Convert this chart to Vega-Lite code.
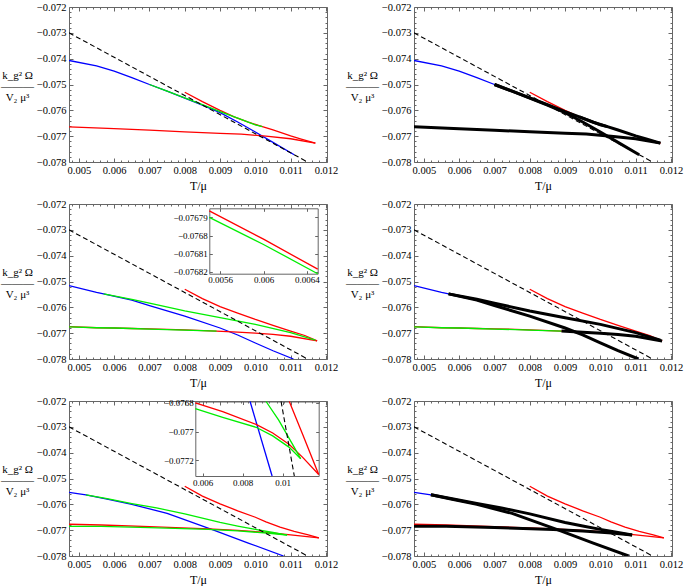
{
"$schema": "https://vega.github.io/schema/vega-lite/v6.json",
"padding": {"left": 0, "top": 1, "right": 0, "bottom": 0},
"columns": 2,
"spacing": {"row": 42, "column": 87},
"bounds": "flush",
"config": {
  "font": "Liberation Serif",
  "view": {"stroke": "#666", "strokeWidth": 1},
  "axis": {"labelFont": "Liberation Serif", "labelFontSize": 10.5, "labelColor": "#000", "titleFont": "Liberation Serif", "titleFontWeight": "normal", "titleColor": "#000", "domain": false, "ticks": false, "grid": false, "labelFlush": false, "labelOverlap": false, "labelPadding": 3}
},
"datasets": {
  "dash": [{"T": 0.00472, "O": -0.073}, {"T": 0.01148, "O": -0.078}],
  "p1": [
    {"b":"blue","T":0.00472,"O":-0.07407},{"b":"blue","T":0.0055,"O":-0.07428},{"b":"blue","T":0.006,"O":-0.07448},{"b":"blue","T":0.0065,"O":-0.07473},{"b":"blue","T":0.007,"O":-0.075},{"b":"blue","T":0.0075,"O":-0.07526},{"b":"blue","T":0.008,"O":-0.07553},{"b":"blue","T":0.0085,"O":-0.0758},{"b":"blue","T":0.009,"O":-0.07609},{"b":"blue","T":0.0095,"O":-0.07645},{"b":"blue","T":0.01,"O":-0.07684},{"b":"blue","T":0.0105,"O":-0.07724},{"b":"blue","T":0.0111,"O":-0.07772},
    {"b":"red1","T":0.008,"O":-0.0753},{"b":"red1","T":0.0085,"O":-0.07566},{"b":"red1","T":0.009,"O":-0.076},{"b":"red1","T":0.0094,"O":-0.07625},{"b":"red1","T":0.0098,"O":-0.07646},{"b":"red1","T":0.0102,"O":-0.07663},{"b":"red1","T":0.0105,"O":-0.07676},{"b":"red1","T":0.011,"O":-0.07699},{"b":"red1","T":0.0113,"O":-0.07711},{"b":"red1","T":0.0117,"O":-0.07727},
    {"b":"red2","T":0.00472,"O":-0.07664},{"b":"red2","T":0.006,"O":-0.07671},{"b":"red2","T":0.007,"O":-0.07677},{"b":"red2","T":0.008,"O":-0.07683},{"b":"red2","T":0.009,"O":-0.07689},{"b":"red2","T":0.0096,"O":-0.07692},{"b":"red2","T":0.0103,"O":-0.077},{"b":"red2","T":0.011,"O":-0.0771},{"b":"red2","T":0.0117,"O":-0.07727},
    {"b":"green1","T":0.007,"O":-0.075},{"b":"green1","T":0.0075,"O":-0.07526},{"b":"green1","T":0.008,"O":-0.07552},{"b":"green1","T":0.0085,"O":-0.07578},{"b":"green1","T":0.009,"O":-0.07605},{"b":"green1","T":0.0095,"O":-0.0763},{"b":"green1","T":0.01,"O":-0.07656},{"b":"green1","T":0.0102,"O":-0.07663}
  ],
  "p2": [
    {"b":"blue","T":0.00472,"O":-0.07516},{"b":"blue","T":0.0055,"O":-0.07542},{"b":"blue","T":0.0057,"O":-0.07548},{"b":"blue","T":0.0065,"O":-0.07572},{"b":"blue","T":0.007,"O":-0.07593},{"b":"blue","T":0.008,"O":-0.07634},{"b":"blue","T":0.009,"O":-0.0768},{"b":"blue","T":0.0095,"O":-0.07707},{"b":"blue","T":0.01,"O":-0.07738},{"b":"blue","T":0.0105,"O":-0.07768},{"b":"blue","T":0.01108,"O":-0.078},
    {"b":"red1","T":0.008,"O":-0.0753},{"b":"red1","T":0.0085,"O":-0.07566},{"b":"red1","T":0.009,"O":-0.07597},{"b":"red1","T":0.0095,"O":-0.07622},{"b":"red1","T":0.01,"O":-0.07647},{"b":"red1","T":0.0105,"O":-0.0767},{"b":"red1","T":0.011,"O":-0.07692},{"b":"red1","T":0.0114,"O":-0.07709},{"b":"red1","T":0.01175,"O":-0.0773},
    {"b":"red2","T":0.00472,"O":-0.07675},{"b":"red2","T":0.0055,"O":-0.07679},{"b":"red2","T":0.006,"O":-0.0768},{"b":"red2","T":0.0065,"O":-0.07682},{"b":"red2","T":0.007,"O":-0.07683},{"b":"red2","T":0.008,"O":-0.07687},{"b":"red2","T":0.0089,"O":-0.07692},{"b":"red2","T":0.0095,"O":-0.07696},{"b":"red2","T":0.01,"O":-0.077},{"b":"red2","T":0.0105,"O":-0.07705},{"b":"red2","T":0.011,"O":-0.07712},{"b":"red2","T":0.01175,"O":-0.0773},
    {"b":"green1","T":0.0057,"O":-0.07548},{"b":"green1","T":0.0065,"O":-0.07569},{"b":"green1","T":0.007,"O":-0.07584},{"b":"green1","T":0.008,"O":-0.07614},{"b":"green1","T":0.009,"O":-0.0764},{"b":"green1","T":0.01,"O":-0.07666},{"b":"green1","T":0.011,"O":-0.07698},{"b":"green1","T":0.0117,"O":-0.07727},
    {"b":"green2","T":0.00472,"O":-0.07676},{"b":"green2","T":0.0055,"O":-0.07679},{"b":"green2","T":0.006,"O":-0.0768},{"b":"green2","T":0.0065,"O":-0.07682},{"b":"green2","T":0.007,"O":-0.07684},{"b":"green2","T":0.008,"O":-0.07688},{"b":"green2","T":0.0089,"O":-0.07692}
  ],
  "p3": [
    {"b":"blue","T":0.00472,"O":-0.07554},{"b":"blue","T":0.0052,"O":-0.07563},{"b":"blue","T":0.0058,"O":-0.0758},{"b":"blue","T":0.0065,"O":-0.076},{"b":"blue","T":0.0075,"O":-0.07635},{"b":"blue","T":0.0088,"O":-0.07699},{"b":"blue","T":0.0098,"O":-0.0775},{"b":"blue","T":0.0108,"O":-0.078},
    {"b":"red1","T":0.008,"O":-0.0753},{"b":"red1","T":0.0085,"O":-0.07568},{"b":"red1","T":0.009,"O":-0.07598},{"b":"red1","T":0.0095,"O":-0.07625},{"b":"red1","T":0.01,"O":-0.0765},{"b":"red1","T":0.0103,"O":-0.07668},{"b":"red1","T":0.0107,"O":-0.07688},{"b":"red1","T":0.0111,"O":-0.07705},{"b":"red1","T":0.0115,"O":-0.07718},{"b":"red1","T":0.0118,"O":-0.0773},
    {"b":"red2","T":0.00472,"O":-0.07677},{"b":"red2","T":0.00563,"O":-0.0768},{"b":"red2","T":0.007,"O":-0.07686},{"b":"red2","T":0.00867,"O":-0.07695},{"b":"red2","T":0.0095,"O":-0.07701},{"b":"red2","T":0.01033,"O":-0.07709},{"b":"red2","T":0.011,"O":-0.07718},{"b":"red2","T":0.0118,"O":-0.0773},
    {"b":"green1","T":0.0052,"O":-0.07563},{"b":"green1","T":0.0058,"O":-0.07578},{"b":"green1","T":0.0065,"O":-0.07597},{"b":"green1","T":0.0072,"O":-0.07614},{"b":"green1","T":0.008,"O":-0.07637},{"b":"green1","T":0.009,"O":-0.0767},{"b":"green1","T":0.0095,"O":-0.07684},{"b":"green1","T":0.01,"O":-0.07697},{"b":"green1","T":0.0105,"O":-0.07709},{"b":"green1","T":0.0109,"O":-0.07719},
    {"b":"green2","T":0.00472,"O":-0.07685},{"b":"green2","T":0.00563,"O":-0.07685},{"b":"green2","T":0.007,"O":-0.0769},{"b":"green2","T":0.00867,"O":-0.07697},{"b":"green2","T":0.0095,"O":-0.07703},{"b":"green2","T":0.01033,"O":-0.07711},{"b":"green2","T":0.0109,"O":-0.07719}
  ],
  "i2": [
    {"b":"red2","T":0.0055,"O":-0.0767864},{"b":"red2","T":0.006,"O":-0.076802},{"b":"red2","T":0.0065,"O":-0.0768185},
    {"b":"green2","T":0.0055,"O":-0.07679},{"b":"green2","T":0.006,"O":-0.0768049},{"b":"green2","T":0.0065,"O":-0.076821}
  ],
  "i3": [
    {"b":"blue","T":0.00837,"O":-0.07679},{"b":"blue","T":0.00947,"O":-0.07731},
    {"b":"red1","T":0.01033,"O":-0.07679},{"b":"red1","T":0.011,"O":-0.07702},{"b":"red1","T":0.0118,"O":-0.0773},
    {"b":"red2","T":0.00563,"O":-0.0768},{"b":"red2","T":0.007,"O":-0.07686},{"b":"red2","T":0.00867,"O":-0.07695},{"b":"red2","T":0.0095,"O":-0.07701},{"b":"red2","T":0.01033,"O":-0.07709},{"b":"red2","T":0.011,"O":-0.07718},{"b":"red2","T":0.0118,"O":-0.0773},
    {"b":"green1","T":0.00917,"O":-0.07679},{"b":"green1","T":0.0098,"O":-0.07692},{"b":"green1","T":0.01058,"O":-0.07711},{"b":"green1","T":0.0109,"O":-0.07719},
    {"b":"green2","T":0.00563,"O":-0.07684},{"b":"green2","T":0.007,"O":-0.0769},{"b":"green2","T":0.00867,"O":-0.07697},{"b":"green2","T":0.0095,"O":-0.07703},{"b":"green2","T":0.01033,"O":-0.07711},{"b":"green2","T":0.0109,"O":-0.07719},
    {"b":"dash","T":0.00992,"O":-0.07679},{"b":"dash","T":0.01058,"O":-0.07731}
  ]
},
"concat": [
{
  "width": 258, "height": 155,
  "resolve": {"scale": {"x": "independent", "y": "independent"}},
  "layer": [
    {
      "data": {"name": "p1"},
      "encoding": {
        "x": {"field": "T", "type": "quantitative", "scale": {"domain": [0.00472, 0.01203], "nice": false, "zero": false}, "axis": {"values": [0.005,0.006,0.007,0.008,0.009,0.01,0.011,0.012], "format": ".3f", "grid": true, "gridColor": "#666", "gridDash": [4,147,4,400], "title": "T/μ", "titleFontSize": 12, "titlePadding": 5}},
        "y": {"field": "O", "type": "quantitative", "scale": {"domain": [-0.078, -0.072], "nice": false, "zero": false}, "axis": {"values": [-0.078,-0.077,-0.076,-0.075,-0.074,-0.073,-0.072], "format": ".3f", "grid": true, "gridColor": "#666", "gridDash": [4,250,4,400], "title": ["k_g² Ω","———","V₂ μ³"], "titleAngle": 0, "titleAlign": "center", "titleBaseline": "middle", "titleX": -52, "titleY": 68, "titleFontSize": 11, "titleLineHeight": 11}}
      },
      "layer": [
        {"mark": {"type": "line", "strokeWidth": 1.3, "clip": true}, "encoding": {"color": {"field": "b", "type": "nominal", "scale": {"domain": ["blue","green1","green2","red1","red2"], "range": ["#0000ff","#00ee00","#00ee00","#ff0000","#ff0000"]}, "legend": null}}},
        {"data": {"name": "dash"}, "mark": {"type": "line", "color": "#000", "strokeWidth": 1.1, "strokeDash": [5,3], "clip": true}, "encoding": {}},
        {"data": {"values": [{}]}, "mark": {"type": "text", "color": "#ff0000", "fontSize": 14, "align": "left", "baseline": "alphabetic", "font": "Liberation Serif"}, "encoding": {"x": {"datum": 0.00512}, "y": {"datum": -0.07277}, "text": {"value": "Δ=2.1"}}}
      ]
    },
    {
      "data": {"name": "dash"}, "mark": {"type": "line", "strokeOpacity": 0},
      "encoding": {
        "x": {"field": "T", "type": "quantitative", "scale": {"domain": [0.00472, 0.01203], "nice": false, "zero": false}, "axis": {"orient": "bottom", "values": [0.0048,0.0052,0.0054,0.0056,0.0058,0.0062,0.0064,0.0066,0.0068,0.0072,0.0074,0.0076,0.0078,0.0082,0.0084,0.0086,0.0088,0.0092,0.0094,0.0096,0.0098,0.0102,0.0104,0.0106,0.0108,0.0112,0.0114,0.0116,0.0118], "labels": false, "title": null, "grid": true, "gridColor": "#666", "gridDash": [2,151,2,400]}},
        "y": {"field": "O", "type": "quantitative", "scale": {"domain": [-0.078, -0.072], "nice": false, "zero": false}, "axis": {"orient": "left", "values": [-0.0778,-0.0776,-0.0774,-0.0772,-0.0768,-0.0766,-0.0764,-0.0762,-0.0758,-0.0756,-0.0754,-0.0752,-0.0748,-0.0746,-0.0744,-0.0742,-0.0738,-0.0736,-0.0734,-0.0732,-0.0728,-0.0726,-0.0724,-0.0722], "labels": false, "title": null, "grid": true, "gridColor": "#666", "gridDash": [2,254,2,400]}}
      }
    }
  ]
},
{
  "width": 258, "height": 155,
  "resolve": {"scale": {"x": "independent", "y": "independent"}},
  "layer": [
    {
      "data": {"name": "p1"},
      "encoding": {
        "x": {"field": "T", "type": "quantitative", "scale": {"domain": [0.00472, 0.01203], "nice": false, "zero": false}, "axis": {"values": [0.005,0.006,0.007,0.008,0.009,0.01,0.011,0.012], "format": ".3f", "grid": true, "gridColor": "#666", "gridDash": [4,147,4,400], "title": "T/μ", "titleFontSize": 12, "titlePadding": 5}},
        "y": {"field": "O", "type": "quantitative", "scale": {"domain": [-0.078, -0.072], "nice": false, "zero": false}, "axis": {"values": [-0.078,-0.077,-0.076,-0.075,-0.074,-0.073,-0.072], "format": ".3f", "grid": true, "gridColor": "#666", "gridDash": [4,250,4,400], "title": ["k_g² Ω","———","V₂ μ³"], "titleAngle": 0, "titleAlign": "center", "titleBaseline": "middle", "titleX": -52, "titleY": 68, "titleFontSize": 11, "titleLineHeight": 11}}
      },
      "layer": [
        {"mark": {"type": "line", "strokeWidth": 1.3, "clip": true}, "encoding": {"color": {"field": "b", "type": "nominal", "scale": {"domain": ["blue","green1","green2","red1","red2"], "range": ["#0000ff","#00ee00","#00ee00","#ff0000","#ff0000"]}, "legend": null}}},
        {"transform": [{"filter": "(datum.b=='blue'&&datum.T>=0.007)||datum.b=='green1'||(datum.b=='red1'&&datum.T>=0.0094)||datum.b=='red2'"}], "mark": {"type": "line", "color": "#000", "strokeWidth": 3, "clip": true}, "encoding": {"detail": {"field": "b"}}},
        {"data": {"name": "dash"}, "mark": {"type": "line", "color": "#000", "strokeWidth": 1.1, "strokeDash": [5,3], "clip": true}, "encoding": {}},
        {"data": {"values": [{}]}, "mark": {"type": "text", "color": "#ff0000", "fontSize": 14, "align": "left", "baseline": "alphabetic", "font": "Liberation Serif"}, "encoding": {"x": {"datum": 0.00525}, "y": {"datum": -0.07277}, "text": {"value": "Δ=2.1"}}}
      ]
    },
    {
      "data": {"name": "dash"}, "mark": {"type": "line", "strokeOpacity": 0},
      "encoding": {
        "x": {"field": "T", "type": "quantitative", "scale": {"domain": [0.00472, 0.01203], "nice": false, "zero": false}, "axis": {"orient": "bottom", "values": [0.0048,0.0052,0.0054,0.0056,0.0058,0.0062,0.0064,0.0066,0.0068,0.0072,0.0074,0.0076,0.0078,0.0082,0.0084,0.0086,0.0088,0.0092,0.0094,0.0096,0.0098,0.0102,0.0104,0.0106,0.0108,0.0112,0.0114,0.0116,0.0118], "labels": false, "title": null, "grid": true, "gridColor": "#666", "gridDash": [2,151,2,400]}},
        "y": {"field": "O", "type": "quantitative", "scale": {"domain": [-0.078, -0.072], "nice": false, "zero": false}, "axis": {"orient": "left", "values": [-0.0778,-0.0776,-0.0774,-0.0772,-0.0768,-0.0766,-0.0764,-0.0762,-0.0758,-0.0756,-0.0754,-0.0752,-0.0748,-0.0746,-0.0744,-0.0742,-0.0738,-0.0736,-0.0734,-0.0732,-0.0728,-0.0726,-0.0724,-0.0722], "labels": false, "title": null, "grid": true, "gridColor": "#666", "gridDash": [2,254,2,400]}}
      }
    }
  ]
},
{
  "width": 258, "height": 155,
  "resolve": {"scale": {"x": "independent", "y": "independent"}},
  "layer": [
    {
      "data": {"name": "p2"},
      "encoding": {
        "x": {"field": "T", "type": "quantitative", "scale": {"domain": [0.00472, 0.01203], "nice": false, "zero": false}, "axis": {"values": [0.005,0.006,0.007,0.008,0.009,0.01,0.011,0.012], "format": ".3f", "grid": true, "gridColor": "#666", "gridDash": [4,147,4,400], "title": "T/μ", "titleFontSize": 12, "titlePadding": 5}},
        "y": {"field": "O", "type": "quantitative", "scale": {"domain": [-0.078, -0.072], "nice": false, "zero": false}, "axis": {"values": [-0.078,-0.077,-0.076,-0.075,-0.074,-0.073,-0.072], "format": ".3f", "grid": true, "gridColor": "#666", "gridDash": [4,250,4,400], "title": ["k_g² Ω","———","V₂ μ³"], "titleAngle": 0, "titleAlign": "center", "titleBaseline": "middle", "titleX": -52, "titleY": 68, "titleFontSize": 11, "titleLineHeight": 11}}
      },
      "layer": [
        {"mark": {"type": "line", "strokeWidth": 1.3, "clip": true}, "encoding": {"color": {"field": "b", "type": "nominal", "scale": {"domain": ["blue","green1","green2","red1","red2"], "range": ["#0000ff","#00ee00","#00ee00","#ff0000","#ff0000"]}, "legend": null}}},
        {"data": {"name": "dash"}, "mark": {"type": "line", "color": "#000", "strokeWidth": 1.1, "strokeDash": [5,3], "clip": true}, "encoding": {}},
        {"data": {"values": [{}]}, "mark": {"type": "text", "color": "#ff0000", "fontSize": 14, "align": "left", "baseline": "alphabetic", "font": "Liberation Serif"}, "encoding": {"x": {"datum": 0.00512}, "y": {"datum": -0.07277}, "text": {"value": "Δ=2.023"}}}
      ]
    },
    {
      "data": {"name": "dash"}, "mark": {"type": "line", "strokeOpacity": 0},
      "encoding": {
        "x": {"field": "T", "type": "quantitative", "scale": {"domain": [0.00472, 0.01203], "nice": false, "zero": false}, "axis": {"orient": "bottom", "values": [0.0048,0.0052,0.0054,0.0056,0.0058,0.0062,0.0064,0.0066,0.0068,0.0072,0.0074,0.0076,0.0078,0.0082,0.0084,0.0086,0.0088,0.0092,0.0094,0.0096,0.0098,0.0102,0.0104,0.0106,0.0108,0.0112,0.0114,0.0116,0.0118], "labels": false, "title": null, "grid": true, "gridColor": "#666", "gridDash": [2,151,2,400]}},
        "y": {"field": "O", "type": "quantitative", "scale": {"domain": [-0.078, -0.072], "nice": false, "zero": false}, "axis": {"orient": "left", "values": [-0.0778,-0.0776,-0.0774,-0.0772,-0.0768,-0.0766,-0.0764,-0.0762,-0.0758,-0.0756,-0.0754,-0.0752,-0.0748,-0.0746,-0.0744,-0.0742,-0.0738,-0.0736,-0.0734,-0.0732,-0.0728,-0.0726,-0.0724,-0.0722], "labels": false, "title": null, "grid": true, "gridColor": "#666", "gridDash": [2,254,2,400]}}
      }
    },
    {
      "data": {"name": "i2"},
      "mark": {"type": "line", "strokeWidth": 1.3},
      "encoding": {
        "x": {"field": "T", "type": "quantitative", "scale": {"domain": [0.0055, 0.0065], "range": [140.3, 248.7], "nice": false, "zero": false}, "axis": {"orient": "bottom", "offset": -85.3, "values": [0.0056, 0.006, 0.0064], "format": ".4~f", "labelFontSize": 9, "ticks": true, "tickSize": -3, "tickColor": "#666", "labelPadding": 5, "title": null, "domain": true, "domainColor": "#666"}},
        "y": {"field": "O", "type": "quantitative", "scale": {"domain": [-0.076821, -0.076785], "range": [69.7, 4.3], "nice": false, "zero": false}, "axis": {"orient": "left", "offset": -140.3, "values": [-0.07682, -0.07681, -0.0768, -0.07679], "format": ".5~f", "labelFontSize": 9, "ticks": true, "tickSize": -3, "tickColor": "#666", "labelPadding": 5, "title": null, "domain": true, "domainColor": "#666"}},
        "color": {"field": "b", "type": "nominal", "scale": {"domain": ["blue","green1","green2","red1","red2"], "range": ["#0000ff","#00ee00","#00ee00","#ff0000","#ff0000"]}, "legend": null}
      }
    },
    {
      "data": {"name": "i2"},
      "mark": {"type": "line", "strokeOpacity": 0},
      "encoding": {
        "x": {"field": "T", "type": "quantitative", "scale": {"domain": [0.0055, 0.0065], "range": [140.3, 248.7], "nice": false, "zero": false}, "axis": {"orient": "top", "offset": -4.3, "values": [0.0056, 0.006, 0.0064], "labels": false, "ticks": true, "tickSize": -3, "tickColor": "#666", "title": null, "domain": true, "domainColor": "#666"}},
        "y": {"field": "O", "type": "quantitative", "scale": {"domain": [-0.076821, -0.076785], "range": [69.7, 4.3], "nice": false, "zero": false}, "axis": {"orient": "right", "offset": -9.3, "values": [-0.07682, -0.07681, -0.0768, -0.07679], "labels": false, "ticks": true, "tickSize": -3, "tickColor": "#666", "title": null, "domain": true, "domainColor": "#666"}}
      }
    }
  ]
},
{
  "width": 258, "height": 155,
  "resolve": {"scale": {"x": "independent", "y": "independent"}},
  "layer": [
    {
      "data": {"name": "p2"},
      "encoding": {
        "x": {"field": "T", "type": "quantitative", "scale": {"domain": [0.00472, 0.01203], "nice": false, "zero": false}, "axis": {"values": [0.005,0.006,0.007,0.008,0.009,0.01,0.011,0.012], "format": ".3f", "grid": true, "gridColor": "#666", "gridDash": [4,147,4,400], "title": "T/μ", "titleFontSize": 12, "titlePadding": 5}},
        "y": {"field": "O", "type": "quantitative", "scale": {"domain": [-0.078, -0.072], "nice": false, "zero": false}, "axis": {"values": [-0.078,-0.077,-0.076,-0.075,-0.074,-0.073,-0.072], "format": ".3f", "grid": true, "gridColor": "#666", "gridDash": [4,250,4,400], "title": ["k_g² Ω","———","V₂ μ³"], "titleAngle": 0, "titleAlign": "center", "titleBaseline": "middle", "titleX": -52, "titleY": 68, "titleFontSize": 11, "titleLineHeight": 11}}
      },
      "layer": [
        {"mark": {"type": "line", "strokeWidth": 1.3, "clip": true}, "encoding": {"color": {"field": "b", "type": "nominal", "scale": {"domain": ["blue","green1","green2","red1","red2"], "range": ["#0000ff","#00ee00","#00ee00","#ff0000","#ff0000"]}, "legend": null}}},
        {"transform": [{"filter": "(datum.b=='blue'&&datum.T>=0.0057)||datum.b=='green1'||(datum.b=='red2'&&datum.T>=0.0089)"}], "mark": {"type": "line", "color": "#000", "strokeWidth": 3, "clip": true}, "encoding": {"detail": {"field": "b"}}},
        {"data": {"name": "dash"}, "mark": {"type": "line", "color": "#000", "strokeWidth": 1.1, "strokeDash": [5,3], "clip": true}, "encoding": {}},
        {"data": {"values": [{}]}, "mark": {"type": "text", "color": "#ff0000", "fontSize": 14, "align": "left", "baseline": "alphabetic", "font": "Liberation Serif"}, "encoding": {"x": {"datum": 0.00525}, "y": {"datum": -0.07277}, "text": {"value": "Δ=2.023"}}}
      ]
    },
    {
      "data": {"name": "dash"}, "mark": {"type": "line", "strokeOpacity": 0},
      "encoding": {
        "x": {"field": "T", "type": "quantitative", "scale": {"domain": [0.00472, 0.01203], "nice": false, "zero": false}, "axis": {"orient": "bottom", "values": [0.0048,0.0052,0.0054,0.0056,0.0058,0.0062,0.0064,0.0066,0.0068,0.0072,0.0074,0.0076,0.0078,0.0082,0.0084,0.0086,0.0088,0.0092,0.0094,0.0096,0.0098,0.0102,0.0104,0.0106,0.0108,0.0112,0.0114,0.0116,0.0118], "labels": false, "title": null, "grid": true, "gridColor": "#666", "gridDash": [2,151,2,400]}},
        "y": {"field": "O", "type": "quantitative", "scale": {"domain": [-0.078, -0.072], "nice": false, "zero": false}, "axis": {"orient": "left", "values": [-0.0778,-0.0776,-0.0774,-0.0772,-0.0768,-0.0766,-0.0764,-0.0762,-0.0758,-0.0756,-0.0754,-0.0752,-0.0748,-0.0746,-0.0744,-0.0742,-0.0738,-0.0736,-0.0734,-0.0732,-0.0728,-0.0726,-0.0724,-0.0722], "labels": false, "title": null, "grid": true, "gridColor": "#666", "gridDash": [2,254,2,400]}}
      }
    }
  ]
},
{
  "width": 258, "height": 155,
  "resolve": {"scale": {"x": "independent", "y": "independent"}},
  "layer": [
    {
      "data": {"name": "p3"},
      "encoding": {
        "x": {"field": "T", "type": "quantitative", "scale": {"domain": [0.00472, 0.01203], "nice": false, "zero": false}, "axis": {"values": [0.005,0.006,0.007,0.008,0.009,0.01,0.011,0.012], "format": ".3f", "grid": true, "gridColor": "#666", "gridDash": [4,147,4,400], "title": "T/μ", "titleFontSize": 12, "titlePadding": 5}},
        "y": {"field": "O", "type": "quantitative", "scale": {"domain": [-0.078, -0.072], "nice": false, "zero": false}, "axis": {"values": [-0.078,-0.077,-0.076,-0.075,-0.074,-0.073,-0.072], "format": ".3f", "grid": true, "gridColor": "#666", "gridDash": [4,250,4,400], "title": ["k_g² Ω","———","V₂ μ³"], "titleAngle": 0, "titleAlign": "center", "titleBaseline": "middle", "titleX": -52, "titleY": 68, "titleFontSize": 11, "titleLineHeight": 11}}
      },
      "layer": [
        {"mark": {"type": "line", "strokeWidth": 1.3, "clip": true}, "encoding": {"color": {"field": "b", "type": "nominal", "scale": {"domain": ["blue","green1","green2","red1","red2"], "range": ["#0000ff","#00ee00","#00ee00","#ff0000","#ff0000"]}, "legend": null}}},
        {"data": {"name": "dash"}, "mark": {"type": "line", "color": "#000", "strokeWidth": 1.1, "strokeDash": [5,3], "clip": true}, "encoding": {}},
        {"data": {"values": [{}]}, "mark": {"type": "text", "color": "#ff0000", "fontSize": 14, "align": "left", "baseline": "alphabetic", "font": "Liberation Serif"}, "encoding": {"x": {"datum": 0.00512}, "y": {"datum": -0.07277}, "text": {"value": "Δ=2"}}}
      ]
    },
    {
      "data": {"name": "dash"}, "mark": {"type": "line", "strokeOpacity": 0},
      "encoding": {
        "x": {"field": "T", "type": "quantitative", "scale": {"domain": [0.00472, 0.01203], "nice": false, "zero": false}, "axis": {"orient": "bottom", "values": [0.0048,0.0052,0.0054,0.0056,0.0058,0.0062,0.0064,0.0066,0.0068,0.0072,0.0074,0.0076,0.0078,0.0082,0.0084,0.0086,0.0088,0.0092,0.0094,0.0096,0.0098,0.0102,0.0104,0.0106,0.0108,0.0112,0.0114,0.0116,0.0118], "labels": false, "title": null, "grid": true, "gridColor": "#666", "gridDash": [2,151,2,400]}},
        "y": {"field": "O", "type": "quantitative", "scale": {"domain": [-0.078, -0.072], "nice": false, "zero": false}, "axis": {"orient": "left", "values": [-0.0778,-0.0776,-0.0774,-0.0772,-0.0768,-0.0766,-0.0764,-0.0762,-0.0758,-0.0756,-0.0754,-0.0752,-0.0748,-0.0746,-0.0744,-0.0742,-0.0738,-0.0736,-0.0734,-0.0732,-0.0728,-0.0726,-0.0724,-0.0722], "labels": false, "title": null, "grid": true, "gridColor": "#666", "gridDash": [2,254,2,400]}}
      }
    },
    {
      "data": {"name": "i3"},
      "encoding": {
        "x": {"field": "T", "type": "quantitative", "scale": {"domain": [0.00563, 0.0118], "range": [126.3, 249.7], "nice": false, "zero": false}, "axis": {"orient": "bottom", "offset": -80, "values": [0.006, 0.008, 0.01], "format": ".3~f", "labelFontSize": 9, "ticks": true, "tickSize": -3, "tickColor": "#666", "labelPadding": 5, "title": null, "domain": true, "domainColor": "#666"}},
        "y": {"field": "O", "type": "quantitative", "scale": {"domain": [-0.07731, -0.07679], "range": [75, 0.5], "nice": false, "zero": false}, "axis": {"orient": "left", "offset": -126.3, "values": [-0.0772, -0.077, -0.0768], "format": ".4~f", "labelFontSize": 9, "ticks": true, "tickSize": -3, "tickColor": "#666", "labelPadding": 5, "title": null, "domain": true, "domainColor": "#666"}}
      },
      "layer": [
        {"transform": [{"filter": "datum.b!='dash'"}], "mark": {"type": "line", "strokeWidth": 1.3}, "encoding": {"color": {"field": "b", "type": "nominal", "scale": {"domain": ["blue","green1","green2","red1","red2"], "range": ["#0000ff","#00ee00","#00ee00","#ff0000","#ff0000"]}, "legend": null}}},
        {"transform": [{"filter": "datum.b=='dash'"}], "mark": {"type": "line", "color": "#000", "strokeWidth": 1.1, "strokeDash": [5,3]}, "encoding": {}}
      ]
    },
    {
      "data": {"name": "i3"},
      "mark": {"type": "line", "strokeOpacity": 0},
      "encoding": {
        "x": {"field": "T", "type": "quantitative", "scale": {"domain": [0.00563, 0.0118], "range": [126.3, 249.7], "nice": false, "zero": false}, "axis": {"orient": "top", "offset": -0.5, "values": [0.006, 0.008, 0.01], "labels": false, "ticks": true, "tickSize": -3, "tickColor": "#666", "title": null, "domain": true, "domainColor": "#666"}},
        "y": {"field": "O", "type": "quantitative", "scale": {"domain": [-0.07731, -0.07679], "range": [75, 0.5], "nice": false, "zero": false}, "axis": {"orient": "right", "offset": -8.3, "values": [-0.0772, -0.077, -0.0768], "labels": false, "ticks": true, "tickSize": -3, "tickColor": "#666", "title": null, "domain": true, "domainColor": "#666"}}
      }
    }
  ]
},
{
  "width": 258, "height": 155,
  "resolve": {"scale": {"x": "independent", "y": "independent"}},
  "layer": [
    {
      "data": {"name": "p3"},
      "encoding": {
        "x": {"field": "T", "type": "quantitative", "scale": {"domain": [0.00472, 0.01203], "nice": false, "zero": false}, "axis": {"values": [0.005,0.006,0.007,0.008,0.009,0.01,0.011,0.012], "format": ".3f", "grid": true, "gridColor": "#666", "gridDash": [4,147,4,400], "title": "T/μ", "titleFontSize": 12, "titlePadding": 5}},
        "y": {"field": "O", "type": "quantitative", "scale": {"domain": [-0.078, -0.072], "nice": false, "zero": false}, "axis": {"values": [-0.078,-0.077,-0.076,-0.075,-0.074,-0.073,-0.072], "format": ".3f", "grid": true, "gridColor": "#666", "gridDash": [4,250,4,400], "title": ["k_g² Ω","———","V₂ μ³"], "titleAngle": 0, "titleAlign": "center", "titleBaseline": "middle", "titleX": -52, "titleY": 68, "titleFontSize": 11, "titleLineHeight": 11}}
      },
      "layer": [
        {"mark": {"type": "line", "strokeWidth": 1.3, "clip": true}, "encoding": {"color": {"field": "b", "type": "nominal", "scale": {"domain": ["blue","green1","green2","red1","red2"], "range": ["#0000ff","#00ee00","#00ee00","#ff0000","#ff0000"]}, "legend": null}}},
        {"transform": [{"filter": "(datum.b=='blue'&&datum.T>=0.0052)||datum.b=='green1'||datum.b=='green2'"}], "mark": {"type": "line", "color": "#000", "strokeWidth": 3, "clip": true}, "encoding": {"detail": {"field": "b"}}},
        {"data": {"name": "dash"}, "mark": {"type": "line", "color": "#000", "strokeWidth": 1.1, "strokeDash": [5,3], "clip": true}, "encoding": {}},
        {"data": {"values": [{}]}, "mark": {"type": "text", "color": "#ff0000", "fontSize": 14, "align": "left", "baseline": "alphabetic", "font": "Liberation Serif"}, "encoding": {"x": {"datum": 0.00525}, "y": {"datum": -0.07277}, "text": {"value": "Δ=2"}}}
      ]
    },
    {
      "data": {"name": "dash"}, "mark": {"type": "line", "strokeOpacity": 0},
      "encoding": {
        "x": {"field": "T", "type": "quantitative", "scale": {"domain": [0.00472, 0.01203], "nice": false, "zero": false}, "axis": {"orient": "bottom", "values": [0.0048,0.0052,0.0054,0.0056,0.0058,0.0062,0.0064,0.0066,0.0068,0.0072,0.0074,0.0076,0.0078,0.0082,0.0084,0.0086,0.0088,0.0092,0.0094,0.0096,0.0098,0.0102,0.0104,0.0106,0.0108,0.0112,0.0114,0.0116,0.0118], "labels": false, "title": null, "grid": true, "gridColor": "#666", "gridDash": [2,151,2,400]}},
        "y": {"field": "O", "type": "quantitative", "scale": {"domain": [-0.078, -0.072], "nice": false, "zero": false}, "axis": {"orient": "left", "values": [-0.0778,-0.0776,-0.0774,-0.0772,-0.0768,-0.0766,-0.0764,-0.0762,-0.0758,-0.0756,-0.0754,-0.0752,-0.0748,-0.0746,-0.0744,-0.0742,-0.0738,-0.0736,-0.0734,-0.0732,-0.0728,-0.0726,-0.0724,-0.0722], "labels": false, "title": null, "grid": true, "gridColor": "#666", "gridDash": [2,254,2,400]}}
      }
    }
  ]
}
]
}
